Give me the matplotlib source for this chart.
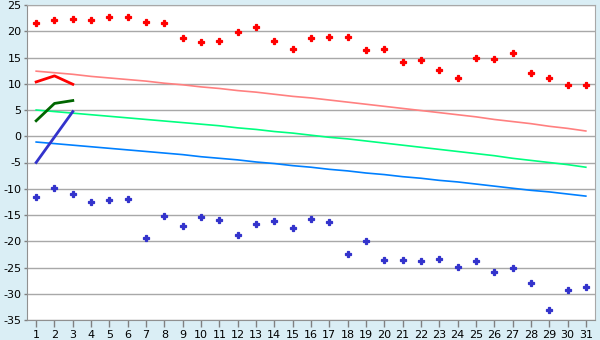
import matplotlib
matplotlib.use("Agg")
import matplotlib.pyplot as plt

plt.rcParams['font.family'] = ['DejaVu Sans']
plt.rcParams['axes.unicode_minus'] = False

days = list(range(1, 32))

max_obs = [21.5, 22.1, 22.3, 22.1, 22.65, 22.65, 21.7, 21.5, 18.65, 18.0,
           18.1, 19.8, 20.75, 18.1, 16.55, 18.65, 18.85, 18.85, 16.4, 16.55,
           14.1, 14.45, 12.55, 11.05, 14.85, 14.65, 15.8, 12.0, 11.05, 9.7, 9.7]
min_obs = [-11.6, -9.9, -11.05, -12.6, -12.2, -12.0, -19.45, -15.25, -17.15, -15.45,
           -16.0, -18.85, -16.8, -16.2, -17.55, -15.8, -16.4, -22.5, -20.0, -23.6,
           -23.6, -23.8, -23.45, -24.95, -23.8, -25.9, -25.15, -28.0, -33.15, -29.35, -28.8]

norm_max = [12.4, 12.1, 11.8, 11.4, 11.1, 10.8, 10.5, 10.1, 9.8, 9.4,
            9.1, 8.7, 8.4, 8.0, 7.6, 7.3, 6.9, 6.5, 6.1, 5.7,
            5.3, 4.9, 4.5, 4.1, 3.7, 3.2, 2.8, 2.4, 1.9, 1.5, 1.0]
norm_mean = [5.0, 4.7, 4.4, 4.1, 3.8, 3.5, 3.2, 2.9, 2.6, 2.3,
             2.0, 1.6, 1.3, 0.9, 0.6, 0.2, -0.2, -0.5, -0.9, -1.3,
             -1.7, -2.1, -2.5, -2.9, -3.3, -3.7, -4.2, -4.6, -5.0, -5.4, -5.9]
norm_min = [-1.1, -1.4, -1.7, -2.0, -2.3, -2.6, -2.9, -3.2, -3.5, -3.9,
            -4.2, -4.5, -4.9, -5.2, -5.6, -5.9, -6.3, -6.6, -7.0, -7.3,
            -7.7, -8.0, -8.4, -8.7, -9.1, -9.5, -9.9, -10.3, -10.6, -11.0, -11.4]

cur_days = [1, 2, 3]
cur_max = [10.35, 11.5, 9.9]
cur_mean = [2.95, 6.25, 6.8]
cur_min = [-5.0, -0.15, 4.7]

yticks = list(range(-35, 30, 5))

fig = plt.figure(figsize=(6, 3.4), dpi=100, facecolor='#DAEEF5')
ax = fig.add_axes([27/600, 1 - 320/340, (595 - 27)/600, (320 - 5)/340])
ax.set_facecolor('white')

ax.plot(days, norm_max, color='#FF8080', lw=1.2, zorder=3)
ax.plot(days, norm_mean, color='#00FF80', lw=1.2, zorder=3)
ax.plot(days, norm_min, color='#0080FF', lw=1.2, zorder=3)

ax.plot(cur_days, cur_max, color='#FF0000', lw=2, zorder=4)
ax.plot(cur_days, cur_mean, color='#006600', lw=2, zorder=4)
ax.plot(cur_days, cur_min, color='#3333CC', lw=2, zorder=4)

ax.plot(days, max_obs, linestyle='none', marker='P', markersize=4.2,
        markerfacecolor='#FF0000', markeredgecolor='#FF0000', markeredgewidth=0.9, zorder=5)
ax.plot(days, min_obs, linestyle='none', marker='P', markersize=4.2,
        markerfacecolor='#3333CC', markeredgecolor='#3333CC', markeredgewidth=0.9, zorder=5)

ax.set_xlim(0.5, 31.5)
ax.set_ylim(-35, 25)
ax.set_xticks(days)
ax.set_xticklabels([str(d) for d in days])
ax.set_yticks(yticks)
ax.set_yticklabels([str(v) for v in yticks])
ax.yaxis.grid(True, color='#A8A8A8', lw=1)
ax.set_axisbelow(True)

ax.tick_params(axis='x', length=5, width=1, color='#808080', labelsize=8, pad=2, labelcolor='black')
ax.tick_params(axis='y', length=2, width=1, color='#808080', labelsize=8, pad=2, labelcolor='black')

for s in ['top', 'right']:
    ax.spines[s].set_color('#A8A8A8')
for s in ['left', 'bottom']:
    ax.spines[s].set_color('#909090')

fig.savefig('out.png', dpi=100, facecolor=fig.get_facecolor())
